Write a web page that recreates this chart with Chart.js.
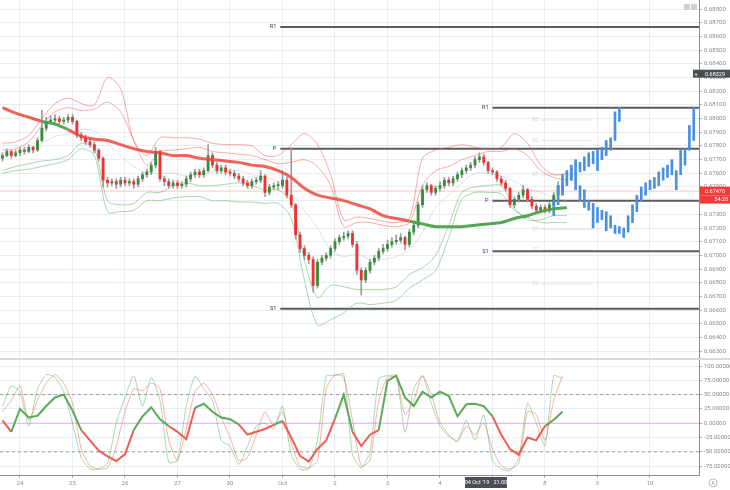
<!DOCTYPE html>
<html>
<head>
<meta charset="utf-8">
<script src="https://cdn.jsdelivr.net/npm/chart.js@4.4.1/dist/chart.umd.min.js"></script>
<style>
  html, body { margin: 0; padding: 0; background: #fff; }
  #wrap { position: relative; width: 730px; height: 490px; overflow: hidden; }
  #top { position: absolute; left: 0; top: 0; }
  #sep { position: absolute; left: 0; top: 358px; width: 730px; height: 2px; background: #d9d9d9; }
  #bottom { position: absolute; left: 0; top: 360px; }
</style>
</head>
<body>
<div id="wrap">
  <canvas id="top" width="730" height="358"></canvas>
  <div id="sep"></div>
  <canvas id="bottom" width="730" height="130"></canvas>
</div>
<script>
// trading hours since 24 Sep 00:00, day ticks
const dayHours = [0, 24, 48, 72, 96, 120, 144, 168, 192, 216, 240, 264, 288];
const dayLabels = ['24', '25', '26', '27', '30', 'Oct', '2', '3', '4', '7', '8', '9', '10'];

// 2h candles starting at -8h
const firstOpen = 0.6771;
const closes = [
  0.6773, 0.6776, 0.6773, 0.6775,
  0.6777, 0.6776, 0.6779, 0.6777, 0.6784, 0.6793, 0.6798, 0.6799, 0.6800, 0.6798, 0.6799, 0.6801,
  0.6798, 0.6788, 0.6786, 0.6783, 0.6781, 0.6777, 0.6771, 0.6755, 0.6753, 0.6754, 0.6752, 0.6755,
  0.6753, 0.6754, 0.6752, 0.6756, 0.6759, 0.6761, 0.6766, 0.6776, 0.6756, 0.6754, 0.6751, 0.6753,
  0.6751, 0.6752, 0.6756, 0.6759, 0.6761, 0.6759, 0.6762, 0.6773, 0.6766, 0.6762, 0.6764, 0.6761,
  0.6760, 0.6758, 0.6756, 0.6753, 0.6751, 0.6754, 0.6755, 0.6758, 0.6746, 0.6750, 0.6751, 0.6751,
  0.6755, 0.6744, 0.6737, 0.6715, 0.6705, 0.6700, 0.6697, 0.6678, 0.6695, 0.6698, 0.6700, 0.6705,
  0.6710, 0.6713, 0.6714, 0.6716, 0.6708, 0.6689, 0.6682, 0.6689, 0.6695, 0.6698, 0.6703, 0.6705,
  0.6708, 0.6710, 0.6711, 0.6713, 0.6708, 0.6717, 0.6722, 0.6737, 0.6748, 0.6751, 0.6746, 0.6749,
  0.6751, 0.6755, 0.6753, 0.6756, 0.6759, 0.6762, 0.6764, 0.6766, 0.6770, 0.6772, 0.6768, 0.6762,
  0.6761, 0.6756, 0.6753, 0.6749, 0.6737, 0.6741, 0.6744, 0.6748, 0.6741, 0.6736, 0.6733, 0.6735,
  0.6733, 0.6737, 0.6744, 0.6751, 0.6747
];
const highs = [
  0.6775, 0.6778, 0.6777, 0.6777,
  0.6779, 0.6779, 0.6781, 0.6780, 0.6786, 0.6806, 0.6801, 0.6802, 0.6803, 0.6802, 0.6801, 0.6803,
  0.6803, 0.6799, 0.6790, 0.6788, 0.6785, 0.6783, 0.6778, 0.6772, 0.6757, 0.6756, 0.6756, 0.6757,
  0.6757, 0.6756, 0.6756, 0.6758, 0.6761, 0.6763, 0.6768, 0.6779, 0.6777, 0.6758, 0.6756, 0.6755,
  0.6755, 0.6754, 0.6758, 0.6761, 0.6763, 0.6763, 0.6764, 0.6781, 0.6775, 0.6768, 0.6766, 0.6766,
  0.6763, 0.6762, 0.6760, 0.6758, 0.6755, 0.6756, 0.6757, 0.6762, 0.6759, 0.6752, 0.6753, 0.6754,
  0.6762, 0.6757, 0.6779, 0.6738, 0.6717, 0.6707, 0.6702, 0.6699, 0.6697, 0.6700, 0.6702, 0.6707,
  0.6712, 0.6715, 0.6717, 0.6718, 0.6718, 0.6710, 0.6691, 0.6691, 0.6697, 0.6700, 0.6705, 0.6708,
  0.6711, 0.6713, 0.6715, 0.6716, 0.6714, 0.6719, 0.6724, 0.6739, 0.6751, 0.6753, 0.6752, 0.6751,
  0.6754, 0.6757, 0.6757, 0.6758, 0.6761, 0.6764, 0.6766, 0.6768, 0.6772, 0.6775, 0.6774, 0.6769,
  0.6764, 0.6762, 0.6758, 0.6755, 0.6750, 0.6743, 0.6746, 0.6751, 0.6749, 0.6743, 0.6738, 0.6737,
  0.6737, 0.6739, 0.6746, 0.6754, 0.6756
];
const lows = [
  0.6769, 0.6772, 0.6771, 0.6772,
  0.6773, 0.6774, 0.6775, 0.6775, 0.6776, 0.6783, 0.6791, 0.6796, 0.6797, 0.6796, 0.6796, 0.6797,
  0.6796, 0.6786, 0.6784, 0.6781, 0.6779, 0.6775, 0.6769, 0.6750, 0.6750, 0.6751, 0.6749, 0.6750,
  0.6751, 0.6751, 0.6749, 0.6750, 0.6754, 0.6757, 0.6759, 0.6764, 0.6754, 0.6751, 0.6749, 0.6749,
  0.6749, 0.6749, 0.6750, 0.6754, 0.6757, 0.6757, 0.6757, 0.6761, 0.6764, 0.6760, 0.6760, 0.6759,
  0.6758, 0.6756, 0.6754, 0.6751, 0.6749, 0.6749, 0.6752, 0.6753, 0.6743, 0.6744, 0.6748, 0.6748,
  0.6749, 0.6742, 0.6735, 0.6712, 0.6702, 0.6697, 0.6694, 0.6673, 0.6676, 0.6693, 0.6696, 0.6698,
  0.6703, 0.6708, 0.6711, 0.6712, 0.6706, 0.6686, 0.6671, 0.6680, 0.6687, 0.6693, 0.6696, 0.6701,
  0.6703, 0.6706, 0.6708, 0.6709, 0.6704, 0.6706, 0.6715, 0.6720, 0.6735, 0.6746, 0.6744, 0.6744,
  0.6747, 0.6749, 0.6751, 0.6751, 0.6754, 0.6757, 0.6760, 0.6762, 0.6764, 0.6768, 0.6766, 0.6760,
  0.6759, 0.6754, 0.6751, 0.6747, 0.6735, 0.6735, 0.6739, 0.6742, 0.6739, 0.6734, 0.6731, 0.6731,
  0.6731, 0.6731, 0.6735, 0.6742, 0.6745
];

// bands and moving average, every 6h from -8h
const bandUpperOuter = [
  0.6782, 0.6783, 0.6788, 0.6800, 0.6811, 0.6815, 0.6811, 0.6810, 0.6830, 0.6822,
  0.6784, 0.6773, 0.6786, 0.6786, 0.6786, 0.6785, 0.6782, 0.6781, 0.6781, 0.6780,
  0.6773, 0.6773, 0.6781, 0.6789, 0.6781, 0.6759, 0.6726, 0.6728, 0.6727, 0.6725,
  0.6724, 0.6727, 0.6771, 0.6777, 0.6779, 0.6781, 0.6779, 0.6778, 0.6779, 0.6789,
  0.6782, 0.6766, 0.6759, 0.6760
];
const bandUpperInner = [
  0.6777, 0.6778, 0.6783, 0.6795, 0.6805, 0.6808, 0.6806, 0.6807, 0.6812, 0.6805,
  0.6784, 0.6766, 0.6776, 0.6777, 0.6778, 0.6779, 0.6776, 0.6775, 0.6774, 0.6773,
  0.6770, 0.6767, 0.6768, 0.6770, 0.6765, 0.6751, 0.6721, 0.6724, 0.6724, 0.6722,
  0.6721, 0.6724, 0.6751, 0.6762, 0.6765, 0.6770, 0.6773, 0.6776, 0.6776, 0.6778,
  0.6773, 0.6762, 0.6757, 0.6755
];
const bandMid = [
  0.6771, 0.6776, 0.6778, 0.6782, 0.6787, 0.6789, 0.6792, 0.6791, 0.6782, 0.6773,
  0.6765, 0.6760, 0.6760, 0.6760, 0.6758, 0.6759, 0.6761, 0.6762, 0.6762, 0.6759,
  0.6757, 0.6754, 0.6746, 0.6733, 0.6720, 0.6704, 0.6699, 0.6701, 0.6697, 0.6697,
  0.6699, 0.6704, 0.6717, 0.6735, 0.6744, 0.6753, 0.6760, 0.6760, 0.6758, 0.6754,
  0.6749, 0.6746, 0.6742, 0.6740
];
const bandLowerInner = [
  0.6762, 0.6765, 0.6767, 0.6769, 0.6770, 0.6773, 0.6782, 0.6778, 0.6740, 0.6737,
  0.6738, 0.6746, 0.6746, 0.6751, 0.6753, 0.6751, 0.6751, 0.6752, 0.6753, 0.6751,
  0.6748, 0.6748, 0.6739, 0.6697, 0.6669, 0.6678, 0.6677, 0.6675, 0.6675, 0.6675,
  0.6677, 0.6686, 0.6691, 0.6700, 0.6722, 0.6746, 0.6750, 0.6751, 0.6751, 0.6735,
  0.6726, 0.6726, 0.6729, 0.6729
];
const bandLowerOuter = [
  0.6760, 0.6762, 0.6763, 0.6765, 0.6767, 0.6770, 0.6778, 0.6773, 0.6732, 0.6732,
  0.6733, 0.6740, 0.6740, 0.6742, 0.6743, 0.6743, 0.6740, 0.6740, 0.6739, 0.6739,
  0.6738, 0.6738, 0.6727, 0.6682, 0.6649, 0.6653, 0.6658, 0.6665, 0.6664, 0.6665,
  0.6667, 0.6676, 0.6682, 0.6689, 0.6713, 0.6741, 0.6746, 0.6746, 0.6745, 0.6733,
  0.6728, 0.6724, 0.6724, 0.6724
];
const maLine = [
  0.6808, 0.6804, 0.6801, 0.6798, 0.6796, 0.6792, 0.6787, 0.6785, 0.6784, 0.6781,
  0.6778, 0.6776, 0.6775, 0.6773, 0.6773, 0.6771, 0.6770, 0.6769, 0.6768, 0.6766,
  0.6765, 0.6762, 0.6757, 0.6749, 0.6744, 0.6742, 0.6740, 0.6737, 0.6734, 0.6729,
  0.6727, 0.6725, 0.6723, 0.6721, 0.6721, 0.6721, 0.6722, 0.6723, 0.6724, 0.6727,
  0.6729, 0.6732, 0.6734, 0.6735
];

// projected paths (2h bars)
const pathAStart = 252;
const pathALow  = [0.6755, 0.6759, 0.6761, 0.6762, 0.6765, 0.6767, 0.6762, 0.6770, 0.6773, 0.6777, 0.6784, 0.6798];
const pathAHigh = [0.6766, 0.6770, 0.6768, 0.6772, 0.6775, 0.6776, 0.6777, 0.6779, 0.6784, 0.6786, 0.6805, 0.6808];
const pathBStart = 244;
const pathBLow = [
  0.6729, 0.6737, 0.6744, 0.6751, 0.6755, 0.6748, 0.6740, 0.6735, 0.6733, 0.6720, 0.6724,
  0.6726, 0.6718, 0.6720, 0.6716, 0.6716, 0.6713, 0.6717, 0.6724, 0.6732, 0.6740, 0.6744,
  0.6748, 0.6749, 0.6751, 0.6755, 0.6757, 0.6759, 0.6748, 0.6759, 0.6766, 0.6777, 0.6784
];
const pathBHigh = [
  0.6740, 0.6751, 0.6759, 0.6762, 0.6764, 0.6761, 0.6751, 0.6748, 0.6740, 0.6738, 0.6735,
  0.6733, 0.6732, 0.6729, 0.6722, 0.6721, 0.6720, 0.6729, 0.6737, 0.6744, 0.6750, 0.6753,
  0.6755, 0.6757, 0.6761, 0.6764, 0.6766, 0.6770, 0.6762, 0.6777, 0.6778, 0.6795, 0.6808
];

// pivots
const pivotNames  = ['R1', 'P', 'S1', 'R1', 'P', 'S1'];
const pivotPrices = [0.6867, 0.6778, 0.6661, 0.6808, 0.6740, 0.6703];
const pivotStarts = [119, 119, 119, 216, 216, 216];
const minorPivotNames  = ['R3', 'R2', 'R1', 'S1', 'S2', 'S3'];
const minorPivotPrices = [0.6799, 0.6784, 0.6759, 0.6719, 0.6704, 0.6679];
const minorPivotFrom = 238, minorPivotTo = 262;

const lastPrice = 0.6747;
const lastPriceText = '0.67470';
const countdownText = '54:28';
const crossPrice = 0.68329;
const crossTimeHour = 213;
const crossTimeText = "04 Oct '19   21:00";

// oscillator, every 4h from -8h
const oscMain = [
  5, -15, 25, 10, 13, 30, 45, 50, 22, -12, -30, -48, -58, -66, -54, -12, 12, 28, 7, -5,
  -15, -28, 27, 34, 20, 10, 7, -2, -20, -15, -10, -3, 4, -25, -57, -67, -45, -30, 8, 50,
  -15, -40, -20, -12, 74, 83, 45, 30, 55, 45, 55, 48, 12, 33, 34, 30, 12, -20, -45, -55,
  -25, -30, -5, 6, 20
];
const oscFast = [
  30, 65, 55, -5, 60, 85, 80, 55, 0, -60, -80, -80, -70, 0, 45, 83, 30, 80, 40, -68,
  -65, 30, 82, 60, 40, -30, -40, -72, -40, -5, 0, -10, 30, -55, -80, -80, -30, 83, 83, 86,
  -55, -78, -50, 78, 83, 83, -16, 60, 83, 35, -5, -23, -30, 5, -30, 15, -65, -80, -83, -60,
  35, 0, -40, 83, 78
];
const oscSlow = [
  20, 40, 65, 5, 40, 70, 85, 70, 35, -45, -75, -80, -78, -40, 20, 60, 57, 70, 60, -30,
  -65, -10, 55, 70, 50, 10, -25, -65, -60, -20, 20, -5, 20, -35, -75, -78, -65, 60, 85, 80,
  5, -75, -65, 40, 80, 80, 15, 40, 83, 50, 2, -20, -33, -5, -20, 0, -45, -75, -80, -70,
  20, 15, -30, 40, 83
];

// ---- setup ----
const X_MIN = -9.14, X_MAX = 310.4;
const P_MIN = 0.66249, P_MAX = 0.68868;
const GRID = 'rgba(190,205,225,0.35)';
const UP = 'rgb(56,142,60)', DOWN = 'rgb(242,48,48)';
const MA_UP = 'rgba(76,160,76,0.95)', MA_DOWN = 'rgba(238,70,60,0.85)';
const BLUE = 'rgb(74,144,226)';

Chart.defaults.font.family = 'Roboto, "DejaVu Sans", sans-serif';
Chart.defaults.font.size = 6;
Chart.defaults.color = '#8a8a8a';

const candleHours = closes.map((_, i) => -8 + 2 * i);
const opens = closes.map((c, i) => (i === 0 ? firstOpen : closes[i - 1]));
const bandHours = bandMid.map((_, i) => -8 + 6 * i);
const oscHours = oscMain.map((_, i) => -8 + 4 * i);
const pathAHours = pathALow.map((_, i) => pathAStart + 2 * i);
const pathBHours = pathBLow.map((_, i) => pathBStart + 2 * i);
const pts = (hours, vals) => vals.map((v, i) => ({ x: hours[i], y: v }));
const hline = (y, from, to) => [{ x: from, y: y }, { x: to, y: y }];

function band(vals, color, order) {
  return { type: 'line', data: pts(bandHours, vals), borderColor: color, borderWidth: 1,
           pointRadius: 0, tension: 0.3, order: order };
}
function bars(hours, lo, hi, color, thick, order) {
  return { type: 'bar', data: hours.map((h, i) => ({ x: h, y: [lo[i], hi[i]] })),
           backgroundColor: color, barThickness: thick, grouped: false, minBarLength: 1, order: order };
}

const topDatasets = [
  { type: 'line', data: pts(bandHours, maLine), borderWidth: 3, pointRadius: 0, tension: 0.35, order: 1,
    borderColor: MA_DOWN,
    segment: { borderColor: c => closes[Math.min(3 * c.p1DataIndex, closes.length - 1)] > maLine[c.p1DataIndex] ? MA_UP : MA_DOWN } },
  bars(pathAHours, pathALow, pathAHigh, BLUE, 2, 2),
  bars(pathBHours, pathBLow, pathBHigh, BLUE, 2, 2),
  bars(candleHours, opens, closes, closes.map((c, i) => (c >= opens[i] ? UP : DOWN)), 2.2, 3),
  bars(candleHours, lows, highs, '#9c9c9c', 1, 4),
  band(bandUpperOuter, 'rgba(244,90,80,0.5)', 5),
  band(bandUpperInner, 'rgba(244,90,80,0.5)', 5),
  band(bandMid, 'rgba(170,175,190,0.35)', 5),
  band(bandLowerInner, 'rgba(90,175,90,0.5)', 5),
  band(bandLowerOuter, 'rgba(90,175,90,0.5)', 5),
  { type: 'line', data: hline(lastPrice, X_MIN, X_MAX), borderColor: 'rgba(255,90,90,0.35)', borderWidth: 1, pointRadius: 0, order: 8 }
];
pivotNames.forEach((n, i) => {
  topDatasets.push({ type: 'line', data: hline(pivotPrices[i], pivotStarts[i], X_MAX),
    borderColor: '#5b5b5b', borderWidth: 2, pointRadius: 0, order: 9 });
});
minorPivotNames.forEach((n, i) => {
  topDatasets.push({ type: 'line', data: hline(minorPivotPrices[i], minorPivotFrom, minorPivotTo),
    borderColor: 'rgba(0,0,0,0.07)', borderWidth: 1.5, pointRadius: 0, order: 9 });
});

function box(ctx, x, y, w, h, fill, text, color, align) {
  ctx.fillStyle = fill;
  ctx.fillRect(x, y, w, h);
  ctx.fillStyle = color;
  ctx.textAlign = align || 'left';
  ctx.textBaseline = 'middle';
  ctx.fillText(text, align === 'center' ? x + w / 2 : (align === 'right' ? x + w - 2 : x + 5), y + h / 2 + 0.5);
}

const topOverlay = {
  id: 'topOverlay',
  afterDatasetsDraw(chart) {
    const { ctx, scales: { x, y } } = chart;
    ctx.save();
    ctx.font = '5.5px Roboto, sans-serif';
    ctx.textBaseline = 'middle';
    ctx.textAlign = 'right';
    ctx.fillStyle = '#333';
    pivotNames.forEach((n, i) => {
      ctx.fillText(n, x.getPixelForValue(pivotStarts[i]) - 4, y.getPixelForValue(pivotPrices[i]));
    });
    ctx.fillStyle = 'rgba(110,110,110,0.3)';
    minorPivotNames.forEach((n, i) => {
      ctx.fillText(n, x.getPixelForValue(minorPivotFrom) - 2, y.getPixelForValue(minorPivotPrices[i]));
    });
    ctx.restore();
  },
  afterDraw(chart) {
    const { ctx, chartArea, scales: { y } } = chart;
    const r = chartArea.right;
    ctx.save();
    ctx.font = '5.5px Roboto, sans-serif';
    const py = y.getPixelForValue(lastPrice);
    box(ctx, r + 1, py - 4.5, 730 - r - 1, 9, '#f23a3a', lastPriceText, '#fff');
    box(ctx, r + 1, py + 4.5, 730 - r - 1, 8, '#f23a3a', countdownText, '#fff', 'right');
    const cy = y.getPixelForValue(crossPrice);
    box(ctx, r - 6, cy - 4, 736 - r, 8, '#4a4e55', '', '#fff');
    ctx.fillStyle = '#fff';
    ctx.textAlign = 'left';
    ctx.fillText('+', r - 4.5, cy + 0.5);
    ctx.fillText(crossPrice.toFixed(5), r + 6, cy + 0.5);
    ctx.fillStyle = '#d0d0d0';
    ctx.fillRect(684, 4, 6, 6);
    ctx.fillRect(691, 4, 6, 6);
    ctx.restore();
  }
};

new Chart(document.getElementById('top'), {
  type: 'bar',
  data: { datasets: topDatasets },
  options: {
    responsive: false, animation: false, events: [],
    plugins: { legend: { display: false }, tooltip: { enabled: false } },
    scales: {
      x: {
        type: 'linear', min: X_MIN, max: X_MAX, offset: false,
        afterBuildTicks: s => { s.ticks = dayHours.map(v => ({ value: v })); },
        afterFit: s => { s.height = 0; s.paddingLeft = 0; s.paddingRight = 0; },
        ticks: { display: false },
        grid: { color: GRID, drawTicks: false, offset: false },
        border: { display: false }
      },
      y: {
        position: 'right', min: P_MIN, max: P_MAX,
        afterFit: s => { s.width = 31; s.paddingTop = 0; s.paddingBottom = 0; },
        ticks: { stepSize: 0.001, includeBounds: false, maxTicksLimit: 100, autoSkip: false,
                 padding: 2, callback: v => v.toFixed(5) },
        grid: { color: GRID, tickColor: '#aaa', tickLength: 3 },
        border: { color: '#8c8c8c' }
      }
    }
  },
  plugins: [topOverlay]
});

const bottomOverlay = {
  id: 'bottomOverlay',
  afterDraw(chart) {
    const { ctx, scales: { x } } = chart;
    ctx.save();
    ctx.font = '5.5px Roboto, sans-serif';
    const cx = x.getPixelForValue(crossTimeHour);
    box(ctx, cx - 21, 117, 42, 11, '#4a4e55', crossTimeText, '#fff', 'center');
    ctx.strokeStyle = '#bbb';
    ctx.beginPath();
    ctx.arc(713, 123, 4, 0, Math.PI * 2);
    ctx.stroke();
    ctx.fillStyle = '#999';
    ctx.textAlign = 'center';
    ctx.fillText('A', 713, 123.5);
    ctx.restore();
  }
};

new Chart(document.getElementById('bottom'), {
  type: 'line',
  data: {
    datasets: [
      { data: pts(oscHours, oscMain), borderWidth: 2, pointRadius: 0, tension: 0, order: 1,
        borderColor: MA_DOWN,
        segment: { borderColor: c => (c.p0.parsed.y + c.p1.parsed.y) / 2 >= 0 ? 'rgba(80,165,80,0.95)' : 'rgba(240,75,65,0.9)' } },
      { data: pts(oscHours, oscFast), borderColor: 'rgba(90,180,90,0.5)', borderWidth: 1, pointRadius: 0, tension: 0.2, order: 2 },
      { data: pts(oscHours, oscSlow), borderColor: 'rgba(244,100,90,0.5)', borderWidth: 1, pointRadius: 0, tension: 0.2, order: 2 },
      { data: hline(0, X_MIN, X_MAX), borderColor: 'rgba(225,130,235,0.6)', borderWidth: 1, pointRadius: 0, order: 5 },
      { data: hline(50, X_MIN, X_MAX), borderColor: '#9a9a9a', borderWidth: 1, borderDash: [3, 3], pointRadius: 0, order: 5 },
      { data: hline(-50, X_MIN, X_MAX), borderColor: '#9a9a9a', borderWidth: 1, borderDash: [3, 3], pointRadius: 0, order: 5 }
    ]
  },
  options: {
    responsive: false, animation: false, events: [],
    plugins: { legend: { display: false }, tooltip: { enabled: false } },
    scales: {
      x: {
        type: 'linear', min: X_MIN, max: X_MAX,
        afterBuildTicks: s => { s.ticks = dayHours.map(v => ({ value: v })); },
        afterFit: s => { s.height = 15; s.paddingLeft = 0; s.paddingRight = 0; },
        ticks: { autoSkip: false, maxRotation: 0, padding: 2,
                 callback: v => dayLabels[dayHours.indexOf(v)] },
        grid: { color: GRID, tickColor: '#aaa', tickLength: 3 },
        border: { color: '#8c8c8c' }
      },
      y: {
        position: 'right', min: -90.5, max: 110.5,
        afterFit: s => { s.width = 31; s.paddingTop = 0; s.paddingBottom = 0; },
        ticks: { stepSize: 25, includeBounds: false, autoSkip: false, padding: 2, callback: v => v.toFixed(5) },
        grid: { color: GRID, tickColor: '#aaa', tickLength: 3 },
        border: { color: '#8c8c8c' }
      }
    }
  },
  plugins: [bottomOverlay]
});
</script>
</body>
</html>
